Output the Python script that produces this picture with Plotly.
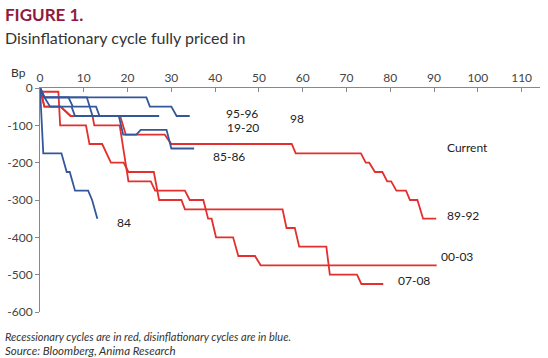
import plotly.graph_objects as go

# ---- data (weeks since first cut, cumulative change in Bp) ----
x_84 = [0, 0.75, 4.9, 6.1, 6.8, 8, 11, 11.9, 13.1]
y_84 = [0, -175, -175, -225, -225, -275, -275, -300, -350]

x_8586 = [0, 1, 10.7, 12, 18, 19, 22, 23, 28.9, 30, 35.2]
y_8586 = [0, -25, -25, -75, -75, -125, -125, -112, -112, -162, -162]

x_9596 = [0, 1, 24.3, 25.1, 30, 31.2, 34.2]
y_9596 = [0, -25, -25, -50, -50, -75, -75]

x_98 = [0, 1, 2.3, 7.2, 8, 27.2]
y_98 = [0, -25, -50, -50, -75, -75]

x_1920 = [0, 1, 6.5, 7.5, 12.8, 13.6, 27.2]
y_1920 = [0, -25, -25, -50, -50, -75, -75]

x_8992 = [0, 1, 4.7, 7, 18.3, 19.6, 28.5, 30, 57.5, 58.4, 73.3, 74.4, 75.2, 76.5,
          78.2, 79.3, 80.2, 81.4, 83.6, 84.5, 86.2, 87.5, 90.5]
y_8992 = [0, -50, -50, -75, -75, -125, -125, -150, -150, -175, -175, -200, -200, -225,
          -225, -250, -250, -275, -275, -300, -300, -350, -350]

x_0003 = [0, 1, 4.7, 7, 12, 12.4, 18.2, 20.2, 25.3, 26.3, 33.1, 34.2, 37.3, 38.4,
          39.2, 40.2, 44.1, 45.3, 49.1, 50.4, 90.6]
y_0003 = [0, -50, -50, -75, -75, -100, -100, -250, -250, -275, -275, -300, -300, -350,
          -350, -400, -400, -450, -450, -475, -475]

x_0708 = [0, 0.5, 4.2, 4.6, 10.5, 11.3, 14.2, 16.2, 19.1, 20.2, 26, 27.2, 32.3, 33.1,
          55.4, 56.3, 58.2, 59.2, 65.4, 66.2, 72.4, 73.4, 78.4]
y_0708 = [0, -10, -10, -100, -100, -150, -150, -200, -200, -225, -225, -300, -300, -325,
          -325, -375, -375, -425, -425, -500, -500, -525, -525]

x_ticks = [0, 10, 20, 30, 40, 50, 60, 70, 80, 90, 100, 110]
y_ticks = [0, -100, -200, -300, -400, -500, -600]
y_ticktext = ["0", "-100", "-200", "-300", "-400", "-500", "-600"]

labels = ["95-96", "19-20", "98", "85-86", "84", "Current", "89-92", "00-03", "07-08"]
label_x = [46.1, 46.3, 58.8, 43.2, 19.2, 97.7, 96.6, 95.2, 85.4]
label_y = [-67, -107, -83, -184, -361, -160, -342, -452, -516]

RED = "#E2302F"
BLUE = "#34579A"

fig = go.Figure()
series = [
    (x_8992, y_8992, RED), (x_0003, y_0003, RED), (x_0708, y_0708, RED),
    (x_84, y_84, BLUE), (x_8586, y_8586, BLUE), (x_9596, y_9596, BLUE),
    (x_98, y_98, BLUE), (x_1920, y_1920, BLUE),
]
for xs, ys, c in series:
    fig.add_trace(go.Scatter(x=xs, y=ys, mode="lines",
                             line=dict(color=c, width=1.8), showlegend=False,
                             hoverinfo="skip"))

for t, lx, ly in zip(labels, label_x, label_y):
    fig.add_annotation(x=lx, y=ly, text=t, showarrow=False,
                       font=dict(size=12, color="#222222", family="Lato"))

# paper coords: plot area is x 40..540 px, y 88..312 px
def px(xp):
    return (xp - 40) / 500.0

def py(yp):
    return (312 - yp) / 224.0

fig.add_annotation(xref="paper", yref="paper", x=px(3), y=py(14), xanchor="left",
                   yanchor="middle", text="<b>FIGURE 1.</b>", showarrow=False,
                   font=dict(size=17, color="#8E1B3E", family="Lato"))
fig.add_annotation(xref="paper", yref="paper", x=px(3), y=py(38), xanchor="left",
                   yanchor="middle", text="Disinflationary cycle fully priced in",
                   showarrow=False, font=dict(size=16, color="#333333", family="Lato"))
fig.add_annotation(xref="paper", yref="paper", x=px(18), y=py(72), xanchor="center",
                   yanchor="middle", text="Bp", showarrow=False,
                   font=dict(size=12, color="#333333", family="Lato"))
fig.add_annotation(xref="paper", yref="paper", x=px(3), y=py(336), xanchor="left",
                   yanchor="middle",
                   text="<i>Recessionary cycles are in red, disinflationary cycles are in blue.</i>",
                   showarrow=False, font=dict(size=11, color="#333333", family="Lato"))
fig.add_annotation(xref="paper", yref="paper", x=px(3), y=py(350), xanchor="left",
                   yanchor="middle", text="<i>Source: Bloomberg, Anima Research</i>",
                   showarrow=False, font=dict(size=11.5, color="#333333", family="Lato"))

fig.update_layout(
    width=548, height=358,
    margin=dict(l=40, r=8, t=88, b=46),
    paper_bgcolor="white", plot_bgcolor="white",
    font=dict(family="Lato", size=12, color="#444444"),
    xaxis=dict(range=[0, 114.2], side="top", tickvals=x_ticks,
               ticks="inside", ticklen=4, tickcolor="#888888",
               showline=True, linecolor="#888888", linewidth=1,
               showgrid=False, zeroline=False, automargin=False,
               tickfont=dict(size=12, color="#444444")),
    yaxis=dict(range=[-600, 0], tickvals=y_ticks, ticktext=y_ticktext,
               ticks="outside", ticklen=4, tickcolor="#888888",
               showline=True, linecolor="#888888", linewidth=1,
               showgrid=False, zeroline=False, automargin=False,
               tickfont=dict(size=12, color="#444444")),
)

fig.write_html("out.html", config={"displayModeBar": False},
               post_script="document.body.style.margin='0';document.body.style.padding='0';")
